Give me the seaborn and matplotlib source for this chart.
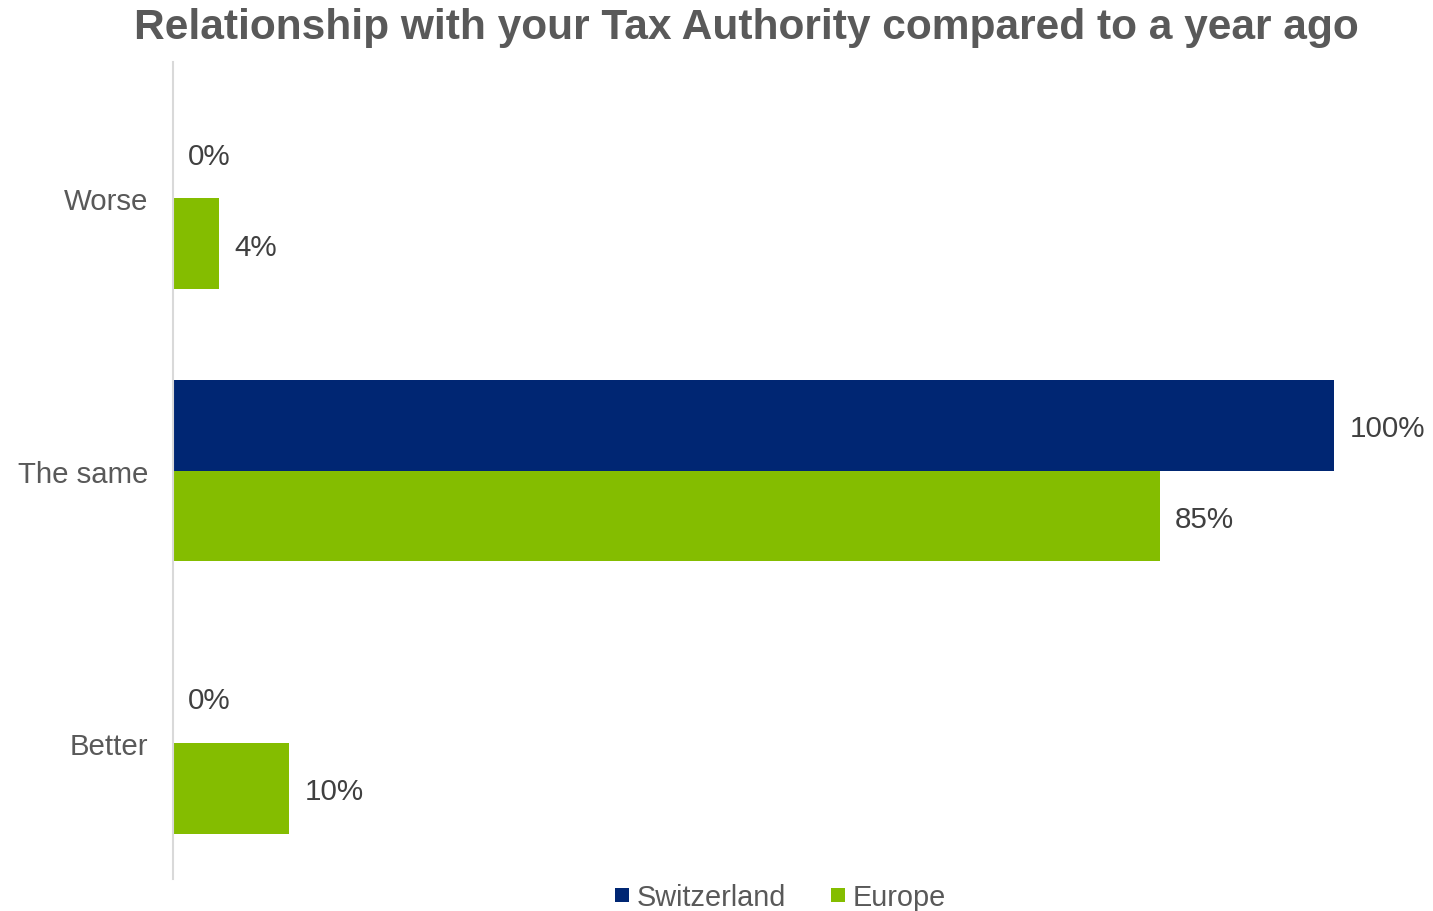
import matplotlib
matplotlib.use("Agg")
import matplotlib.pyplot as plt
from matplotlib.lines import Line2D
import pandas as pd
import seaborn as sns

categories = ["Worse", "The same", "Better"]
series_names = ["Switzerland", "Europe"]
switzerland = [0, 100, 0]
europe = [4, 85, 10]
colors = {"Switzerland": "#002673", "Europe": "#84BD00"}

df = pd.DataFrame({
    "answer": categories * 2,
    "region": ["Switzerland"] * 3 + ["Europe"] * 3,
    "share": switzerland + europe,
})

sns.set_theme(style="white")
plt.rcParams["font.family"] = ["Liberation Sans", "DejaVu Sans"]

fig = plt.figure(figsize=(14.33, 9.12), dpi=100)
ax = fig.add_axes([0.1207, 0.0351, 0.931 - 0.1207, 0.9309 - 0.0351])

sns.barplot(data=df, y="answer", x="share", hue="region", order=categories,
            hue_order=series_names, palette=colors, orient="h", width=0.667,
            gap=0, saturation=1, errorbar=None, legend=False, ax=ax,
            linewidth=0)

for container in ax.containers:
    labels = ax.bar_label(container,
                          labels=[f"{v:.0f}%" for v in container.datavalues],
                          padding=11, fontsize=21.3, color="#404040")
    for t in labels:
        t.set_va("center_baseline")

ax.set_xlim(0, 100)
ax.set_ylim(2.5, -0.5)
ax.set_xlabel("")
ax.set_ylabel("")
ax.set_xticks([])
ax.tick_params(axis="y", length=0, pad=18, labelsize=21.2, labelcolor="#595959")
for side in ["top", "right", "bottom"]:
    ax.spines[side].set_visible(False)
ax.spines["left"].set_color("#D9D9D9")
ax.spines["left"].set_linewidth(1.5)

fig.suptitle("Relationship with your Tax Authority compared to a year ago",
             x=0.521, y=0.991, va="top", fontsize=30.6, fontweight="bold",
             color="#595959")

handles = [Line2D([], [], marker="s", linestyle="none", markersize=10.5,
                  markerfacecolor=colors[n], markeredgewidth=0) for n in series_names]
fig.legend(handles, series_names, loc="center", bbox_to_anchor=(0.542, 0.0155),
           ncol=2, frameon=False, fontsize=20.8, labelcolor="#595959",
           handletextpad=0.0, columnspacing=1.3, handlelength=1.0)

fig.savefig("out.png", dpi=100, facecolor="white")
